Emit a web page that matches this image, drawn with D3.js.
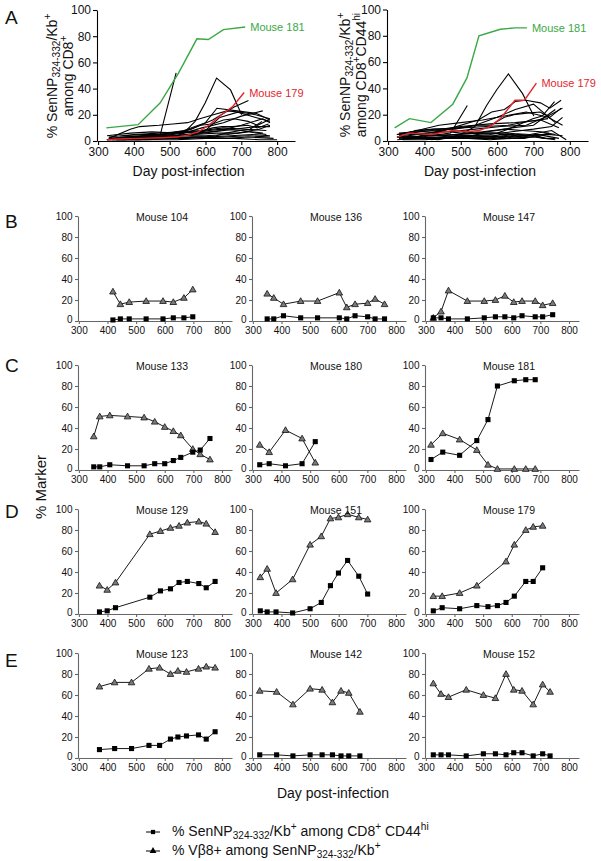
<!DOCTYPE html>
<html>
<head>
<meta charset="utf-8">
<script src="https://cdn.jsdelivr.net/npm/d3@7"></script>
<style>
  body { margin: 0; background: #fff; }
  svg text { font-family: "Liberation Sans", Arial, Helvetica, sans-serif; fill: #111; }
</style>
</head>
<body>
<svg id="fig" width="601" height="861"></svg>
<script>
// ---- tick labels
var xTicks = [300, 400, 500, 600, 700, 800];
var yTicks = [0, 20, 40, 60, 80, 100];

// ---- small panels: day, % SenNP/Kb+ among CD8+CD44hi (squares), % Vb8+ (triangles)
var days104 = [419, 445, 476, 535, 594, 630, 667, 698];
var sq104   = [1, 2, 2, 2, 2, 3, 3, 4];
var tri104  = [28, 16, 18, 19, 19, 18, 22, 30];

var days136 = [350, 373, 407, 467, 526, 602, 628, 657, 701, 727, 760];
var sq136   = [2, 2, 5, 3, 3, 3, 2, 5, 4, 2, 2];
var tri136  = [26, 22, 16, 19, 19, 27, 13, 16, 17, 21, 16];

var days147 = [326, 353, 379, 445, 504, 543, 576, 607, 636, 682, 708, 743];
var sq147   = [3, 3, 2, 2, 3, 4, 4, 3, 5, 4, 4, 6];
var tri147  = [3, 9, 29, 19, 19, 20, 24, 18, 19, 19, 15, 17];

var days133 = [352, 373, 408, 470, 528, 565, 600, 630, 656, 698, 724, 758];
var sq133   = [3, 3, 5, 4, 4, 6, 6, 9, 12, 17, 19, 30];
var tri133  = [32, 51, 52, 51, 50, 46, 41, 37, 33, 20, 15, 10];

var days180 = [324, 357, 414, 472, 518];
var sq180   = [5, 6, 4, 6, 27];
var tri180  = [24, 17, 38, 30, 7];

var days181 = [318, 359, 418, 478, 517, 550, 609, 649, 682];
var sq181   = [10, 17, 14, 28, 48, 80, 85, 86, 86];
var tri181  = [24, 35, 29, 19, 5, 1, 1, 1, 1];

var days129 = [372, 399, 428, 548, 585, 620, 650, 679, 719, 745, 776];
var sq129   = [2, 3, 6, 16, 22, 24, 30, 31, 29, 25, 31];
var tri129  = [27, 23, 30, 76, 79, 82, 84, 87, 88, 86, 78];

var days151 = [326, 350, 381, 439, 500, 539, 571, 599, 631, 670, 701];
var sq151   = [3, 2, 2, 1, 5, 11, 27, 39, 51, 36, 19];
var tri151  = [35, 43, 20, 33, 66, 74, 91, 92, 95, 92, 90];

var days179    = [326, 357, 418, 478, 517, 550, 580, 609, 649, 675, 708];
var sq179      = [3, 6, 5, 8, 7, 8, 11, 17, 31, 31, 44];
var days179Tri = [326, 357, 418, 478, 580, 609, 649, 675, 708];
var tri179     = [17, 17, 20, 27, 50, 66, 80, 83, 84];

var days123 = [372, 425, 484, 545, 582, 620, 646, 676, 718, 745, 776];
var sq123   = [8, 9, 9, 12, 12, 18, 20, 21, 22, 18, 25];
var tri123  = [68, 72, 72, 85, 86, 80, 83, 82, 85, 87, 86];

var days142 = [324, 383, 440, 500, 542, 578, 608, 635, 674];
var sq142   = [3, 3, 2, 3, 3, 3, 2, 2, 2];
var tri142  = [64, 63, 51, 66, 65, 53, 64, 62, 44];

var days152 = [326, 353, 379, 441, 501, 543, 580, 607, 636, 675, 708, 734];
var sq152   = [3, 3, 3, 2, 4, 4, 3, 5, 5, 2, 4, 2];
var tri152  = [71, 61, 58, 65, 60, 57, 80, 65, 64, 51, 70, 63];

// ---- panel A left: % SenNP/Kb+ among CD8+ (all mice)
var cd8Days181 = [323, 412, 473, 525, 576, 608, 650, 711];
var cd8Vals181 = [10, 12.5, 29, 52, 78, 77.5, 85, 87];
var cd8Days179 = [326, 357, 418, 478, 517, 550, 580, 609, 649, 675, 708];
var cd8Vals179 = [1, 1.5, 2, 2.5, 3, 4.5, 7, 12, 21, 26, 37];
var cd8Days = [
  [326, 350, 381, 439, 500, 539, 571, 599, 631, 670, 701],
  [324, 357, 414, 472, 518],
  [330, 390, 416, 470, 509, 550, 584, 622, 660, 700, 740, 780],
  [325, 400, 470, 540, 600, 632, 688, 743, 780],
  [340, 420, 500, 560, 620, 680, 720],
  [330, 410, 480, 540, 590, 650, 700, 760],
  [350, 430, 510, 580, 640, 700, 760, 780],
  [325, 380, 440, 500, 560, 620, 680, 740, 780],
  [330, 400, 470, 530, 590, 650, 710, 770],
  [340, 410, 480, 550, 610, 670, 730, 780],
  [330, 420, 510, 590, 660, 720, 790],
  [350, 440, 520, 600, 680, 750, 800],
  [325, 390, 450, 520, 580, 640, 700, 760],
  [360, 430, 500, 570, 630, 690, 750, 780],
  [330, 400, 460, 530, 600, 660, 720, 770],
  [560, 600, 640, 690, 740, 780],
  [372, 399, 428, 548, 585, 620, 650, 679, 719, 745, 776],
  [372, 425, 484, 545, 582, 620, 646, 676, 718, 745, 776],
  [352, 373, 408, 470, 528, 565, 600, 630, 656, 698, 724, 758],
  [340, 420, 500, 580, 650, 720, 780]
];
var cd8Vals = [
  [1, 1, 1, 1, 2, 6, 15, 29, 48, 39, 20],
  [1, 2, 1, 3, 52],
  [2, 9, 11, 12, 13, 14, 17, 20, 23, 22, 20, 17],
  [1, 3, 5, 8, 14, 25, 23, 21, 16],
  [2, 4, 5, 9, 16, 26, 31],
  [1, 2, 4, 6, 10, 14, 19, 23],
  [2, 3, 4, 6, 8, 12, 17, 14],
  [1, 2, 3, 3, 5, 7, 9, 11, 11],
  [3, 5, 6, 7, 8, 10, 9, 8],
  [1, 1, 2, 2, 3, 4, 5, 4],
  [2, 2, 3, 3, 2, 3, 2],
  [1, 1, 1, 2, 2, 1, 1],
  [4, 6, 7, 6, 7, 9, 8, 6],
  [3, 4, 4, 5, 6, 6, 9, 12],
  [2, 3, 3, 4, 4, 5, 7, 5],
  [4, 8, 18, 22, 18, 15],
  [1, 2, 3, 8, 12, 13, 16, 17, 15, 12, 16],
  [4, 5, 5, 7, 7, 10, 11, 11, 12, 10, 13],
  [1, 1, 2, 2, 2, 3, 3, 4, 6, 8, 9, 15],
  [1, 2, 2, 3, 3, 4, 3]
];

// ---- panel A right: other mice (CD8+CD44hi) not shown below
var hiExtraDays = [
  [325, 380, 440, 500, 560, 620, 680, 740, 780],
  [330, 410, 470, 540, 600, 650, 700, 760],
  [350, 420, 480, 540, 600, 640, 700, 760],
  [330, 400, 460, 520, 580, 640, 700, 750, 780],
  [360, 430, 500, 570, 630, 690, 740],
  [325, 390, 450, 510, 570, 620, 680, 740, 780],
  [340, 410, 470, 530, 590, 650, 710, 770],
  [330, 380, 440, 500, 560, 620, 670, 720, 760],
  [350, 420, 490, 560, 620, 690, 750, 790],
  [330, 400, 470, 540, 610, 680, 740, 780],
  [340, 400, 460, 520, 580, 640, 700, 760],
  [330, 420, 500, 580, 650, 720, 770]
];
var hiExtraVals = [
  [5, 8, 12, 14, 16, 19, 22, 18, 12],
  [3, 6, 9, 12, 18, 24, 28, 14],
  [6, 4, 5, 6, 8, 10, 12, 24],
  [2, 3, 3, 4, 5, 7, 9, 11, 18],
  [7, 9, 10, 11, 12, 15, 17],
  [1, 2, 2, 3, 3, 4, 4, 5, 4],
  [2, 2, 3, 2, 4, 3, 5, 2],
  [6, 7, 8, 6, 7, 9, 8, 7, 5],
  [3, 4, 5, 6, 6, 5, 8, 1],
  [4, 6, 7, 9, 11, 12, 19, 25],
  [1, 1, 2, 2, 1, 2, 3, 1],
  [5, 8, 11, 13, 14, 16, 10]
];

var panels = [
  {title: "Mouse 104", days: days104, sq: sq104, tri: tri104},
  {title: "Mouse 136", days: days136, sq: sq136, tri: tri136},
  {title: "Mouse 147", days: days147, sq: sq147, tri: tri147},
  {title: "Mouse 133", days: days133, sq: sq133, tri: tri133},
  {title: "Mouse 180", days: days180, sq: sq180, tri: tri180},
  {title: "Mouse 181", days: days181, sq: sq181, tri: tri181},
  {title: "Mouse 129", days: days129, sq: sq129, tri: tri129},
  {title: "Mouse 151", days: days151, sq: sq151, tri: tri151},
  {title: "Mouse 179", days: days179, sq: sq179, tri: tri179, triDays: days179Tri},
  {title: "Mouse 123", days: days123, sq: sq123, tri: tri123},
  {title: "Mouse 142", days: days142, sq: sq142, tri: tri142},
  {title: "Mouse 152", days: days152, sq: sq152, tri: tri152}
];

var svg = d3.select("#fig");
var FONT = "Liberation Sans, Arial, Helvetica, sans-serif";
var GREEN = "#3aa845", RED = "#e3262d";

function zip(a, b) { return a.map(function (d, i) { return [d, b[i]]; }); }

// text with sub/superscripts
function rich(g, x, y, parts, size, rotate) {
  var t = g.append("text")
      .attr("font-size", size)
      .attr("text-anchor", rotate ? "middle" : "start");
  if (rotate) t.attr("transform", "translate(" + x + "," + y + ") rotate(-90)");
  else t.attr("x", x).attr("y", y);
  var cur = 0;
  parts.forEach(function (p) {
    var off = p[1] === "sub" ? size * 0.22 : p[1] === "sup" ? -size * 0.42 : 0;
    t.append("tspan")
        .attr("dy", off - cur)
        .attr("font-size", p[1] ? size * 0.72 : size)
        .text(p[0]);
    cur = off;
  });
  return t;
}

function styleAxis(g, size, color) {
  g.attr("font-family", FONT).attr("font-size", size);
  g.selectAll("path, line").attr("stroke", color).attr("stroke-width", 1.1);
  g.selectAll("text").attr("fill", "#111");
}

// ---------- panel A
function drawA(xr, yTop, blackDays, blackVals, red, green) {
  var x = d3.scaleLinear().domain([297, 850]).range(xr);
  var y = d3.scaleLinear().domain([0, 100]).range([141, yTop]);
  var line = d3.line().x(function (d) { return x(d[0]); }).y(function (d) { return y(d[1]); });

  var g = svg.append("g");
  blackDays.forEach(function (dd, i) {
    g.append("path").datum(zip(dd, blackVals[i]))
        .attr("d", line).attr("fill", "none").attr("stroke", "#000").attr("stroke-width", 1.1);
  });
  [red, green].forEach(function (s) {
    var pts = zip(s.days, s.vals);
    g.append("path").datum(pts)
        .attr("d", line).attr("fill", "none").attr("stroke", s.color).attr("stroke-width", 1.4);
    var last = pts[pts.length - 1];
    g.append("text")
        .attr("x", x(last[0]) + 5).attr("y", y(last[1]) + 4)
        .attr("font-size", 11).style("fill", s.color)
        .text(s.label);
  });

  var gx = svg.append("g").attr("transform", "translate(0,141)")
      .call(d3.axisBottom(x).tickValues(xTicks).tickSize(4).tickSizeOuter(0).tickPadding(2));
  styleAxis(gx, 12, "#000");
  var gy = svg.append("g").attr("transform", "translate(" + xr[0] + ",0)")
      .call(d3.axisLeft(y).tickValues(yTicks).tickSize(4).tickSizeOuter(0).tickPadding(2));
  styleAxis(gy, 12, "#000");

  svg.append("text").attr("x", (x(300) + x(800)) / 2 + 1).attr("y", 176)
      .attr("text-anchor", "middle").attr("font-size", 14).text("Day post-infection");
}

drawA([97, 295], 10, cd8Days, cd8Vals,
  {days: cd8Days179, vals: cd8Vals179, color: RED, label: "Mouse 179"},
  {days: cd8Days181, vals: cd8Vals181, color: GREEN, label: "Mouse 181"});

var hiDays = [days104, days136, days147, days133, days180, days129, days151, days123, days142, days152].concat(hiExtraDays);
var hiVals = [sq104, sq136, sq147, sq133, sq180, sq129, sq151, sq123, sq142, sq152].concat(hiExtraVals);
drawA([387, 588], 9.5, hiDays, hiVals,
  {days: days179, vals: sq179, color: RED, label: "Mouse 179"},
  {days: days181, vals: sq181, color: GREEN, label: "Mouse 181"});

rich(svg, 57, 76, [["% SenNP"], ["324-332", "sub"], ["/Kb"], ["+", "sup"]], 14, true);
rich(svg, 73, 76, [["among CD8"], ["+", "sup"]], 14, true);
rich(svg, 350, 75, [["% SenNP"], ["324-332", "sub"], ["/Kb"], ["+", "sup"]], 14, true);
rich(svg, 366, 75, [["among CD8"], ["+", "sup"], ["CD44"], ["hi", "sup"]], 14, true);

// ---------- small panels B–E
var colX = [78, 252, 425];
var rowTop = [216, 365, 509, 653];
var tri = d3.symbol().type(d3.symbolTriangle).size(19);
var sqr = d3.symbol().type(d3.symbolSquare).size(26);

panels.forEach(function (p, i) {
  var x0 = colX[i % 3], top = rowTop[Math.floor(i / 3)], bot = top + 105;
  var x = d3.scaleLinear().domain([297, 835]).range([x0, x0 + 154]);
  var y = d3.scaleLinear().domain([0, 100]).range([bot, top]);
  var line = d3.line().x(function (d) { return x(d[0]); }).y(function (d) { return y(d[1]); });
  var g = svg.append("g");

  var gx = g.append("g").attr("transform", "translate(0," + bot + ")")
      .call(d3.axisBottom(x).tickValues(xTicks).tickSize(3).tickSizeOuter(0).tickPadding(2.5));
  styleAxis(gx, 10, "#666");
  var gy = g.append("g").attr("transform", "translate(" + x0 + ",0)")
      .call(d3.axisLeft(y).tickValues(yTicks).tickSize(3).tickSizeOuter(0).tickPadding(2.5));
  styleAxis(gy, 10, "#666");
  gy.selectAll(".tick").filter(function (d) { return d === 0; }).select("text").attr("dy", "0.1em");

  var triPts = zip(p.triDays || p.days, p.tri);
  var sqPts = zip(p.days, p.sq);
  [triPts, sqPts].forEach(function (pts) {
    g.append("path").datum(pts).attr("d", line)
        .attr("fill", "none").attr("stroke", "#000").attr("stroke-width", 0.9);
  });
  g.selectAll(".tri").data(triPts).enter().append("path")
      .attr("transform", function (d) { return "translate(" + x(d[0]) + "," + (y(d[1]) + 0.5) + ")"; })
      .attr("d", tri).attr("fill", "#7a7a7a").attr("stroke", "#111").attr("stroke-width", 0.8);
  g.selectAll(".sq").data(sqPts).enter().append("path")
      .attr("transform", function (d) { return "translate(" + x(d[0]) + "," + y(d[1]) + ")"; })
      .attr("d", sqr).attr("fill", "#000");

  g.append("text").attr("x", x0 + 84).attr("y", top + 5)
      .attr("text-anchor", "middle").attr("font-size", 10.5).text(p.title);
});

// ---------- panel letters and shared labels
var letters = ["A", "B", "C", "D", "E"];
var letterY = [24, 228, 372, 518, 667];
letters.forEach(function (l, i) {
  svg.append("text").attr("x", 5).attr("y", letterY[i]).attr("font-size", 19).text(l);
});

svg.append("text").attr("transform", "translate(46,487) rotate(-90)")
    .attr("text-anchor", "middle").attr("font-size", 15).text("% Marker");
svg.append("text").attr("x", 333).attr("y", 798)
    .attr("text-anchor", "middle").attr("font-size", 14).text("Day post-infection");

// ---------- legend
var legY = [832, 851];
legY.forEach(function (ly, i) {
  svg.append("line").attr("x1", 146).attr("x2", 160).attr("y1", ly).attr("y2", ly)
      .attr("stroke", "#000").attr("stroke-width", 1);
  svg.append("path").attr("transform", "translate(153," + ly + ")")
      .attr("d", i === 0 ? d3.symbol().type(d3.symbolSquare).size(18)() : d3.symbol().type(d3.symbolTriangle).size(20)())
      .attr("fill", "#000");
});
rich(svg, 172, 836, [["% SenNP"], ["324-332", "sub"], ["/Kb"], ["+", "sup"], [" among CD8"], ["+", "sup"], [" CD44"], ["hi", "sup"]], 14, false);
rich(svg, 172, 855, [["% V\u03b28+ among SenNP"], ["324-332", "sub"], ["/Kb"], ["+", "sup"]], 14, false);
</script>
</body>
</html>
